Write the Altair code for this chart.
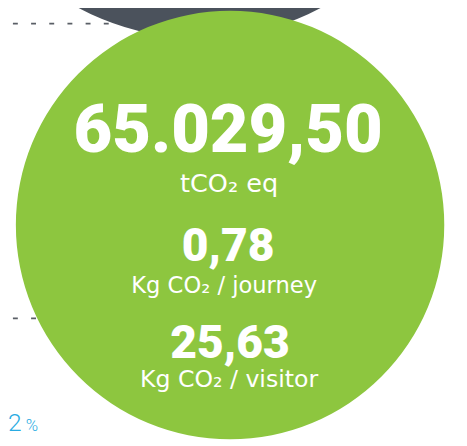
import altair as alt
import pandas as pd

W, H = 459, 438

# Bubbles (value -> circle area)
bubble_name = ["Reference", "Total emissions"]
bubble_x = [195, 226]
bubble_y = [-234, 217]
bubble_value = [93200, 65029.5]
bubble_color = ["#4B525C", "#8DC63F"]

# Headline figures (bold) and their units (regular)
value_text = ["65.029,50", "0,78", "25,63"]
value_y = [143, 254, 352]
value_size = [68, 47, 47]
unit_text = ["tCO₂ eq", "Kg CO₂ / journey", "Kg CO₂ / visitor"]
unit_y = [183, 286, 382]
unit_size = [26, 23, 24]

# Dashed guide lines
guide_y = [12, 312]

# Corner percentage
pct_digit = "2"
pct_sign = "%"

xs = alt.Scale(domain=[0, W], nice=False, zero=False)
ys = alt.Scale(domain=[0, H], nice=False, zero=False, reverse=True)

bubbles = pd.DataFrame({"name": bubble_name, "x": bubble_x, "y": bubble_y,
                        "value": bubble_value, "color": bubble_color})
values = pd.DataFrame({"t": value_text, "y": value_y, "s": value_size, "x": [224, 224, 226]})
units = pd.DataFrame({"t": unit_text, "y": unit_y, "s": unit_size, "x": [225, 220, 225]})
guides = pd.DataFrame({"y": guide_y, "x": [0, 0], "x2": [200, 200]})
pct = pd.DataFrame({"t": [pct_digit, pct_sign], "x": [0, 18], "y": [427, 427], "s": [25, 17]})

rules = alt.Chart(guides).mark_rule(
    strokeDash=[5, 13.5], strokeDashOffset=13.5, strokeWidth=2, color="#5A5F66"
).encode(
    x=alt.X("x:Q", scale=xs, axis=None),
    x2="x2:Q",
    y=alt.Y("y:Q", scale=ys, axis=None),
)

circles = alt.Chart(bubbles).mark_circle(opacity=1).encode(
    x=alt.X("x:Q", scale=xs, axis=None),
    y=alt.Y("y:Q", scale=ys, axis=None),
    size=alt.Size("value:Q", scale=alt.Scale(domain=[0, 65029.5], range=[0, 436 * 436]), legend=None),
    color=alt.Color("color:N", scale=None),
    order=alt.Order("value:Q", sort="descending"),
)

vtext = alt.Chart(values).mark_text(
    font="Roboto", fontWeight=900, color="white", align="center", baseline="alphabetic"
).encode(
    x=alt.X("x:Q", scale=xs, axis=None),
    y=alt.Y("y:Q", scale=ys, axis=None),
    text="t:N",
    size=alt.Size("s:Q", scale=None),
)

utext = alt.Chart(units).mark_text(
    font="DejaVu Sans", fontWeight=400, color="white", align="center", baseline="alphabetic"
).encode(
    x=alt.X("x:Q", scale=xs, axis=None),
    y=alt.Y("y:Q", scale=ys, axis=None),
    text="t:N",
    size=alt.Size("s:Q", scale=None),
)

ptext = alt.Chart(pct).mark_text(
    font="Roboto", fontWeight=300, color="#29ABE2", align="left", baseline="alphabetic"
).encode(
    x=alt.X("x:Q", scale=xs, axis=None),
    y=alt.Y("y:Q", scale=ys, axis=None),
    text="t:N",
    size=alt.Size("s:Q", scale=None),
)

chart = alt.layer(rules, circles, vtext, utext, ptext).properties(
    width=W, height=H, autosize=alt.AutoSizeParams(type="none"), padding=0
).configure_view(stroke=None).resolve_scale(size="independent")

chart.save("out.html", embed_options={"renderer": "svg", "actions": False})
